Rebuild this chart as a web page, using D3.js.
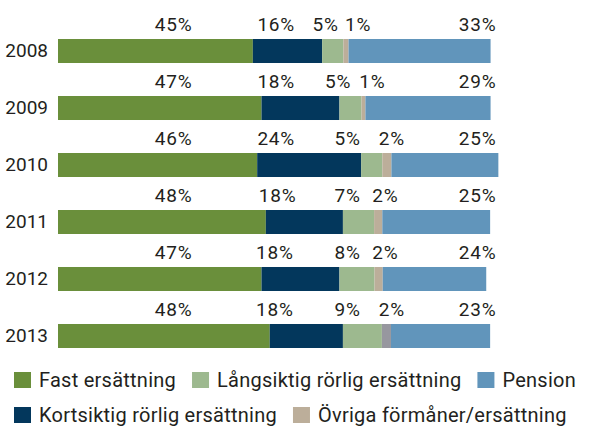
<!DOCTYPE html>
<html><head><meta charset="utf-8">
<script src="https://cdn.jsdelivr.net/npm/d3@7"></script>
<style>
html,body{margin:0;padding:0;background:#fff;}
svg text{font-family:Roboto,"Open Sans",sans-serif;fill:#231f20;}
</style></head>
<body><svg id="c" width="591" height="426"></svg>
<script>
// ---- data ----
const years = ["2008","2009","2010","2011","2012","2013"];
const seriesNames = ["Fast ersättning","Kortsiktig rörlig ersättning","Långsiktig rörlig ersättning","Övriga förmåner/ersättning","Pension"];
const fast    = [45, 47, 46, 48, 47, 48.9];
const kort    = [16, 18, 24, 17.8, 18, 16.9];
const lang    = [4.9, 5.1, 4.9, 7.2, 8.1, 9];
const ovriga  = [1.2, 0.9, 2.1, 1.9, 1.9, 2.1];
const pension = [32.8, 28.9, 24.7, 24.9, 23.9, 22.9];
const fastLbl    = ["45%","47%","46%","48%","47%","48%"];
const kortLbl    = ["16%","18%","24%","18%","18%","18%"];
const langLbl    = ["5%","5%","5%","7%","8%","9%"];
const ovrigaLbl  = ["1%","1%","2%","2%","2%","2%"];
const pensionLbl = ["33%","29%","25%","25%","24%","23%"];

// ---- style / layout ----
const colors = ["#6a8f3b","#03375c","#9db98f","#bcae9a","#6195bb"];
const overrideColor = {"2013": {3: "#97979f"}};
// label centres (in % units along the axis), per series, per year
const labelAt = [
  [26.7,26.7,26.7,26.7,26.7,26.7],
  [50.4,50.4,50.4,50.7,50.1,50.1],
  [61.8,64.7,66.9,66.9,66.9,66.9],
  [69.3,72.6,77.1,75.6,75.6,77.1],
  [96.9,96.9,96.9,96.9,96.9,96.9]
];

const values = [fast,kort,lang,ovriga,pension];
const labels = [fastLbl,kortLbl,langLbl,ovrigaLbl,pensionLbl];

const svg = d3.select("#c");
const x = d3.scaleLinear().domain([0,100]).range([58,491]);
const y = d3.scaleBand().domain(years).range([39,348]).paddingInner(0.5789).paddingOuter(0);

const rows = years.map((yr,i)=>{
  let acc = 0;
  return values.map((arr,k)=>{ const s={year:yr,k,i,x0:acc,x1:acc+arr[i]}; acc+=arr[i]; return s;});
});

const g = svg.append("g");
rows.forEach(segs=>{
  g.selectAll(null).data(segs).enter().append("rect")
    .attr("x",d=>x(d.x0)).attr("width",d=>x(d.x1)-x(d.x0))
    .attr("y",d=>y(d.year)).attr("height",y.bandwidth())
    .attr("fill",d=>(overrideColor[d.year]&&overrideColor[d.year][d.k])||colors[d.k]);
  g.selectAll(null).data(segs).enter().append("text")
    .attr("x",d=>x(labelAt[d.k][d.i])).attr("y",d=>y(d.year)-8)
    .attr("text-anchor","middle").style("font-size","19px").style("letter-spacing","0.8px")
    .text(d=>labels[d.k][d.i]);
});

// year axis labels
const yAxis = d3.axisLeft(y).tickSize(0).tickPadding(10);
const ay = svg.append("g").attr("transform","translate(58,0)").call(yAxis);
ay.select(".domain").remove();
ay.selectAll("text").style("font-size","19px").style("font-family","Roboto").attr("fill","#231f20").attr("dy","0.33em");

// legend
const legendRows = [[0,2,4],[1,3]];
const lg = svg.append("g");
legendRows.forEach((row,r)=>{
  let cx = 14;
  const yy = 372 + r*35;
  row.forEach(k=>{
    lg.append("rect").attr("x",cx).attr("y",yy).attr("width",17).attr("height",16).attr("fill",colors[k]);
    const t = lg.append("text").attr("x",cx+25).attr("y",yy+15).style("font-size","20px").style("letter-spacing","0.25px").text(seriesNames[k]);
    cx += 25 + t.node().getComputedTextLength() + 16;
  });
});
</script></body></html>
